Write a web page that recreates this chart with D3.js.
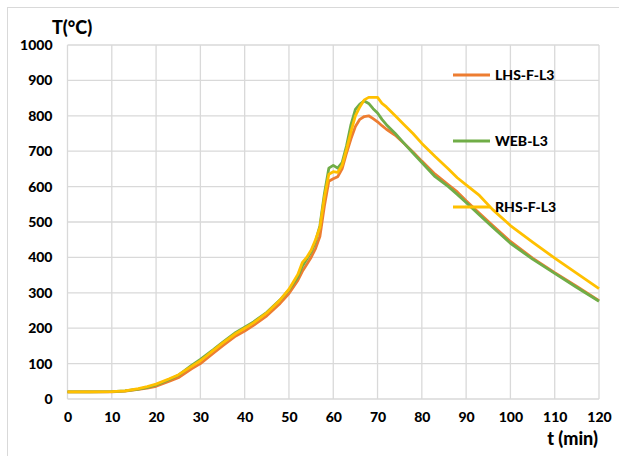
<!DOCTYPE html>
<html>
<head>
<meta charset="utf-8">
<script src="https://cdn.jsdelivr.net/npm/d3@7"></script>
<style>
    body { margin: 0; background: #fff; }
    text { font-family: Lato, "Open Sans", sans-serif; font-weight: 900; fill: #000; }
</style>
</head>
<body>
<div class="chart"></div>
<script>
var width = 619;
var height = 456;

// time in minutes
var times = [0, 5, 10, 13, 16, 18, 20, 23, 25, 28, 30, 33, 35, 38, 40, 42, 45, 48, 50, 52, 53, 54, 55, 56, 57, 58, 59, 60,
    61, 62, 63, 64, 65, 66, 67, 68, 69, 70, 71, 72, 74, 76, 78, 80, 83, 86, 88, 90, 93, 96, 100, 105, 110, 115, 120];

var lhsF = [20, 20, 20, 22, 27, 31, 36, 50, 60, 85, 100, 130, 150, 178, 192, 208, 235, 270, 298, 335, 360, 380, 400, 425, 460, 545, 615, 622,
    628, 650, 695, 735, 770, 790, 798, 800, 792, 783, 772, 762, 745, 722, 698, 672, 635, 605, 585, 560, 525, 490, 445, 398, 357, 318, 278];

var web = [20, 20, 21, 23, 28, 33, 40, 55, 67, 95, 112, 140, 160, 188, 203, 218, 245, 280, 308, 345, 375, 395, 415, 445, 490, 580, 652, 660,
    652, 668, 715, 775, 818, 833, 842, 835, 820, 808, 790, 775, 750, 722, 695, 668, 628, 600, 578, 555, 520, 485, 440, 395, 355, 315, 276];

var rhsF = [20, 20, 21, 23, 29, 35, 42, 57, 68, 92, 108, 138, 158, 185, 200, 215, 243, 280, 310, 352, 385, 400, 420, 450, 485, 570, 635, 642,
    640, 660, 705, 755, 800, 825, 845, 852, 852, 852, 835, 825, 800, 775, 750, 722, 685, 650, 625, 605, 575, 535, 490, 443, 398, 355, 312];

var seriesNames = ['LHS-F-L3', 'WEB-L3', 'RHS-F-L3'];
var seriesColors = ['#ED7D31', '#70AD47', '#FFC000'];
var seriesValues = [lhsF, web, rhsF];

var xTicks = [0, 10, 20, 30, 40, 50, 60, 70, 80, 90, 100, 110, 120];
var yTicks = [0, 100, 200, 300, 400, 500, 600, 700, 800, 900, 1000];

var plotLeft = 67.5, plotRight = 599, plotTop = 45, plotBottom = 399;

var svg = d3.select('.chart').append('svg')
    .attr('width', width)
    .attr('height', height);

// outer chart border
svg.append('rect')
    .attr('x', 7.5).attr('y', 7.5)
    .attr('width', width).attr('height', height)
    .attr('fill', 'none')
    .attr('stroke', '#d9d9d9');

var x = d3.scaleLinear().domain([0, 120]).range([plotLeft, plotRight]);
var y = d3.scaleLinear().domain([0, 1000]).range([plotBottom, plotTop]);

// gridlines
svg.append('g').selectAll('line.v')
    .data(xTicks).enter().append('line')
    .attr('x1', function (d) { return x(d); })
    .attr('x2', function (d) { return x(d); })
    .attr('y1', plotTop).attr('y2', plotBottom)
    .attr('stroke', '#d9d9d9').attr('stroke-width', 1.3);

svg.append('g').selectAll('line.h')
    .data(yTicks).enter().append('line')
    .attr('x1', plotLeft).attr('x2', plotRight)
    .attr('y1', function (d) { return y(d); })
    .attr('y2', function (d) { return y(d); })
    .attr('stroke', '#d9d9d9').attr('stroke-width', 1.3);

// axes, text only
var xAxis = svg.append('g')
    .attr('transform', 'translate(0,' + plotBottom + ')')
    .call(d3.axisBottom(x).tickValues(xTicks).tickFormat(d3.format('d')).tickSize(0).tickPadding(13));
xAxis.select('.domain').remove();
xAxis.selectAll('text').attr('font-size', 14).attr('font-family', null);

var yAxis = svg.append('g')
    .attr('transform', 'translate(' + (plotLeft - 15) + ',0)')
    .call(d3.axisLeft(y).tickValues(yTicks).tickFormat(d3.format('d')).tickSize(0).tickPadding(0));
yAxis.select('.domain').remove();
yAxis.selectAll('text').attr('font-size', 14).attr('font-family', null);

// series lines
var line = d3.line()
    .x(function (d) { return x(d[0]); })
    .y(function (d) { return y(d[1]); });

seriesValues.forEach(function (vals, i) {
    var pts = times.map(function (t, j) { return [t, vals[j]]; });
    svg.append('path')
        .datum(pts)
        .attr('d', line)
        .attr('fill', 'none')
        .attr('stroke', seriesColors[i])
        .attr('stroke-width', 2.8)
        .attr('stroke-linejoin', 'round');
});

// legend
var legendY = [75, 141, 207];
seriesNames.forEach(function (name, i) {
    svg.append('line')
        .attr('x1', 453).attr('x2', 490)
        .attr('y1', legendY[i]).attr('y2', legendY[i])
        .attr('stroke', seriesColors[i])
        .attr('stroke-width', 2.8);
    svg.append('text')
        .attr('x', 495).attr('y', legendY[i] + 5)
        .attr('font-size', 14)
        .text(name);
});

// axis titles
svg.append('text')
    .attr('x', 52).attr('y', 34)
    .attr('font-size', 18)
    .text('T(°C)');

svg.append('text')
    .attr('x', 598).attr('y', 445)
    .attr('font-size', 18)
    .style('text-anchor', 'end')
    .text('t (min)');
</script>
</body>
</html>
